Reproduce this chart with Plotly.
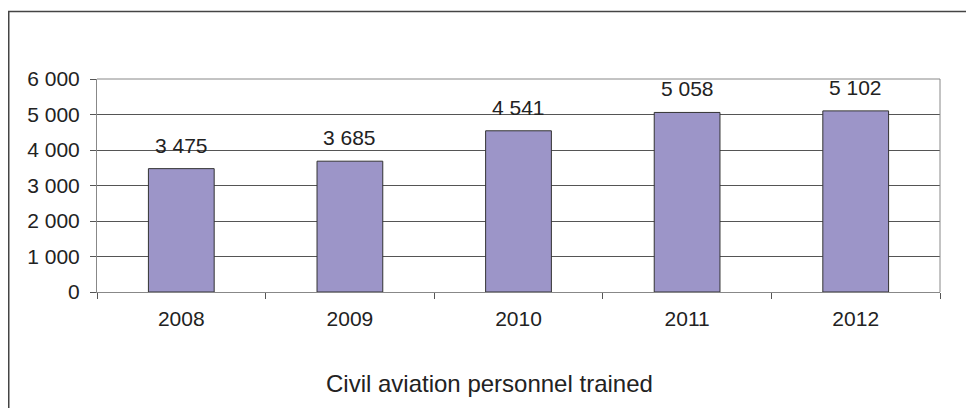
import plotly.graph_objects as go

years = ["2008", "2009", "2010", "2011", "2012"]
trained = [3475, 3685, 4541, 5058, 5102]
y_ticks = [0, 1000, 2000, 3000, 4000, 5000, 6000]
title_text = "Civil aviation personnel trained"

# page has an 8px body margin: figure origin sits at page (8, 8)
OFF = 8
W, H = 974 - OFF, 408 - OFF
L, T = 97 - OFF, 79 - OFF          # plot area top-left in page px -> figure px
pw, ph = 843, 213
R, B = W - L - pw, H - T - ph


def px_x(p):  # page pixel -> paper x
    return (p - OFF - L) / pw


def px_y(p):  # page pixel -> paper y
    return (T + ph - (p - OFF)) / ph


family = "Liberation Sans, Arial, sans-serif"
font = dict(family=family, size=21, color="#222")

fig = go.Figure(
    go.Bar(
        x=years,
        y=trained,
        width=0.39,
        marker=dict(color="#9c95c8", line=dict(color="#333", width=1)),
        hoverinfo="x+y",
    )
)

annotations = [
    dict(x=i, y=v, xref="x", yref="y", text=f"{v:,}".replace(",", " "),
         showarrow=False, xanchor="center", yanchor="bottom", yshift=10,
         font=font)
    for i, v in enumerate(trained)
]
annotations.append(
    dict(text=title_text, xref="paper", yref="paper",
         x=px_x(489), y=px_y(383), showarrow=False,
         xanchor="center", yanchor="middle",
         font=dict(family=family, size=24, color="#222"))
)

fig.update_layout(
    width=W,
    height=H,
    margin=dict(l=L, r=R, t=T, b=B, pad=0),
    paper_bgcolor="white",
    plot_bgcolor="white",
    separators=". ",
    showlegend=False,
    font=font,
    xaxis=dict(
        type="category",
        categoryorder="array",
        categoryarray=years,
        range=[-0.5, len(years) - 0.5],
        tickson="boundaries",
        ticks="outside",
        ticklen=6,
        tickcolor="#555",
        showline=True,
        linecolor="#888",
        linewidth=1,
        showgrid=False,
        tickfont=font,
        tickangle=0,
        ticklabelstandoff=8,
    ),
    yaxis=dict(
        range=[0, 6000],
        tickvals=y_ticks,
        tickformat=",d",
        ticks="outside",
        ticklen=6,
        tickcolor="#555",
        showline=True,
        linecolor="#888",
        linewidth=1,
        showgrid=True,
        gridcolor="#555",
        gridwidth=1,
        zeroline=False,
        tickfont=font,
        ticklabelstandoff=6,
    ),
    shapes=[
        dict(type="line", xref="paper", yref="paper", x0=0, x1=1, y0=1, y1=1,
             line=dict(color="#888", width=1)),
        dict(type="line", xref="paper", yref="paper", x0=1, x1=1, y0=0, y1=1,
             line=dict(color="#888", width=1)),
        dict(type="rect", xref="paper", yref="paper",
             x0=px_x(OFF + 0.75), x1=px_x(1000), y0=px_y(440), y1=px_y(11.5),
             line=dict(color="#444", width=1.5), fillcolor="rgba(0,0,0,0)"),
    ],
    annotations=annotations,
)

fig.write_html("out.html")
